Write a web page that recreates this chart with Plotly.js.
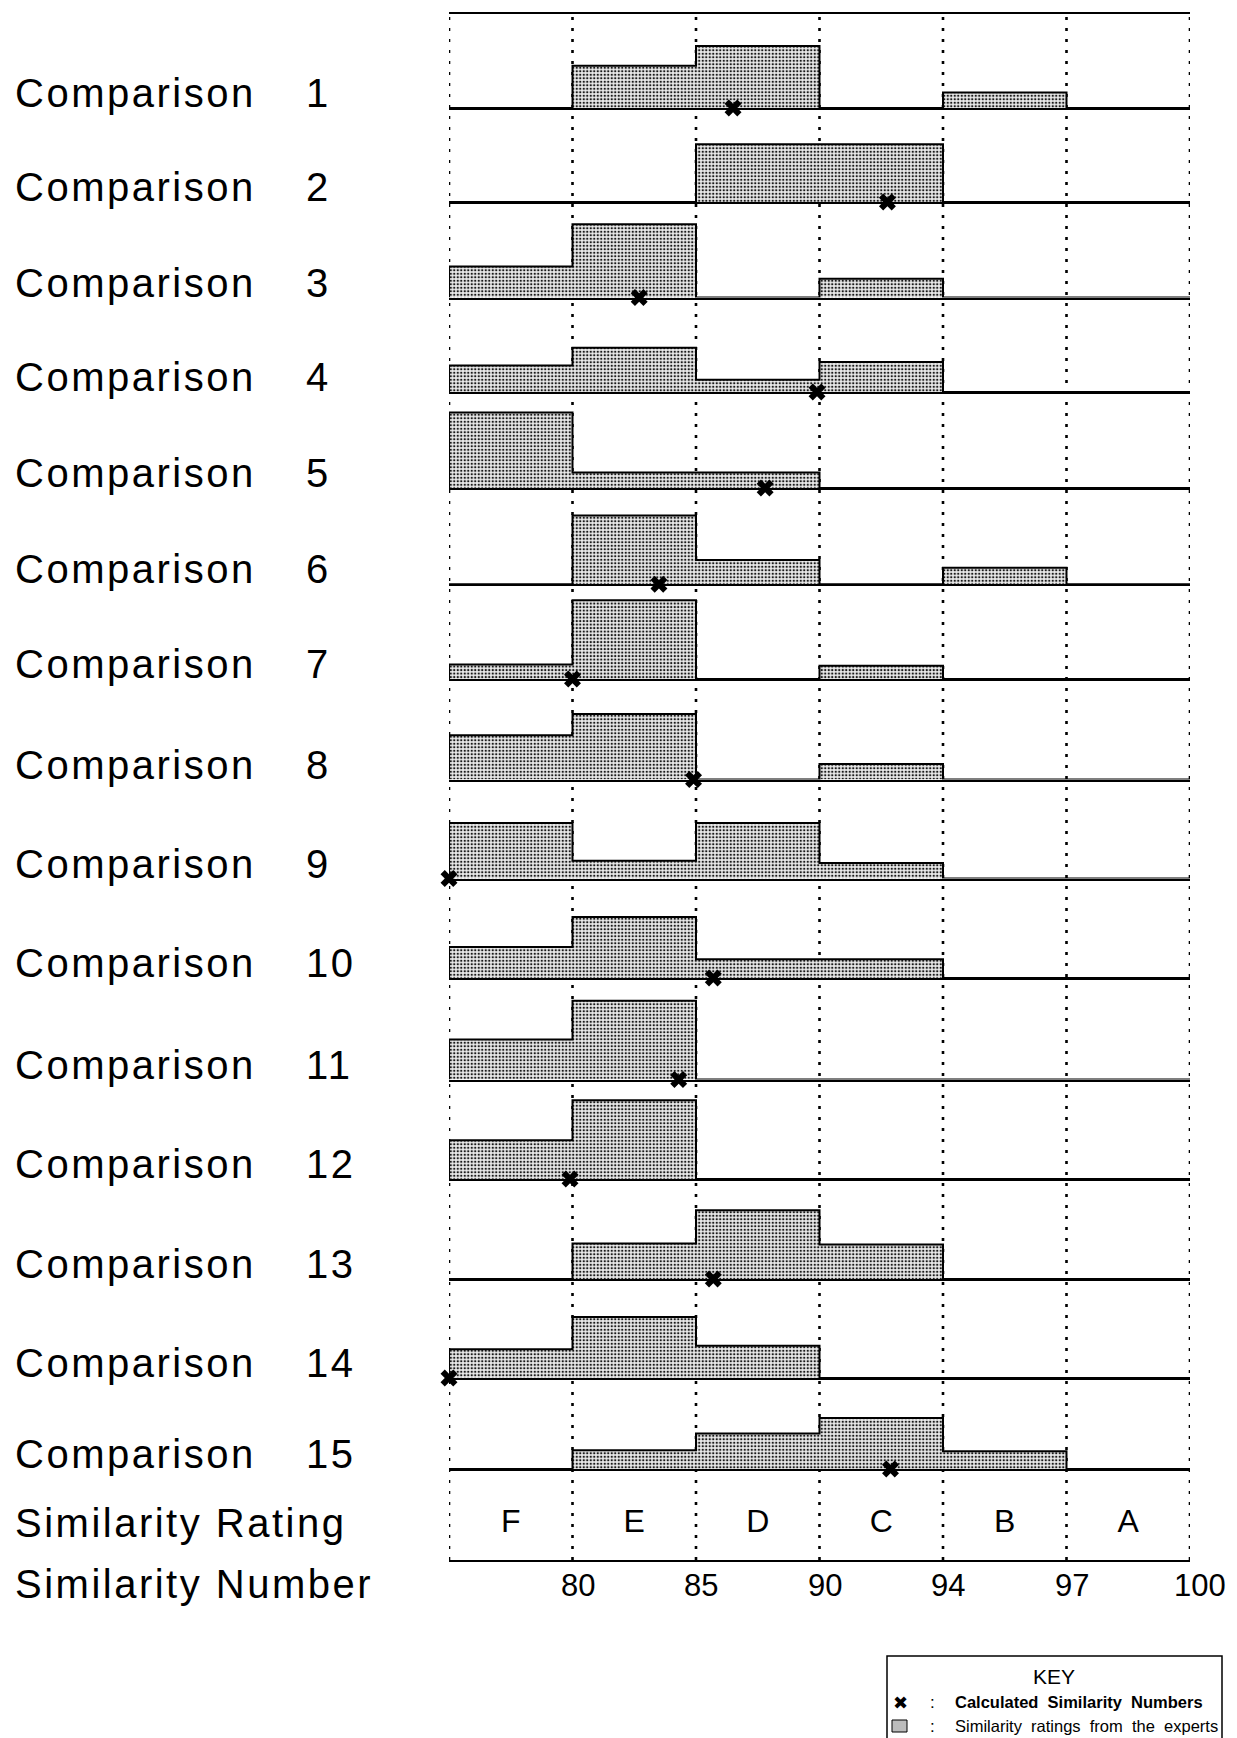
<!DOCTYPE html>
<html>
<head>
<meta charset="utf-8">
<script src="https://cdn.plot.ly/plotly-3.0.1.min.js"></script>
<style>
html,body{margin:0;padding:0;background:#fff;}
#chart{width:1237px;height:1738px;}
</style>
</head>
<body>
<div id="chart"></div>
<script>
// ---------------- DATA ----------------
const comparisonNumbers = ['1','2','3','4','5','6','7','8','9','10','11','12','13','14','15'];
const ratingLetters = ['F','E','D','C','B','A'];
const binEdges = [75, 80, 85, 90, 94, 97, 100];          // similarity number bin boundaries (75 = assumed lower end of F)
const edgeTickLabels = ['80','85','90','94','97','100'];

// expert similarity ratings per bin (F, E, D, C, B, A), relative heights
const expert1  = [0, 38, 56, 0, 14, 0];
const expert2  = [0, 0, 52, 52, 0, 0];
const expert3  = [28, 66, 0, 17, 0, 0];
const expert4  = [24, 40, 11, 27, 0, 0];
const expert5  = [68, 14, 14, 0, 0, 0];
const expert6  = [0, 62, 22, 0, 15, 0];
const expert7  = [13, 71, 0, 12, 0, 0];
const expert8  = [40, 59, 0, 14, 0, 0];
const expert9  = [50, 16, 50, 14, 0, 0];
const expert10 = [28, 55, 17, 17, 0, 0];
const expert11 = [36, 71, 0, 0, 0, 0];
const expert12 = [35, 71, 0, 0, 0, 0];
const expert13 = [0, 32, 62, 31, 0, 0];
const expert14 = [26, 55, 29, 0, 0, 0];
const expert15 = [0, 17, 32, 46, 16, 0];

// calculated similarity numbers (the x marks)
const calculatedSimilarity = [86.5, 92.2, 82.7, 89.9, 87.8, 83.5, 80.0, 84.9, 75.0, 85.7, 84.3, 79.9, 85.7, 75.0, 92.3];

const expertRatings = [expert1, expert2, expert3, expert4, expert5, expert6, expert7, expert8,
                       expert9, expert10, expert11, expert12, expert13, expert14, expert15];

// ---------------- LAYOUT GEOMETRY (pixels of the page) ----------------
const W = 1237, H = 1738;
const plotLeftPx = 449, plotRightPx = 1190, topPx = 13.5, bandBottomPx = 1560;
const baselinePx = [108, 202, 297.5, 392, 488, 584.3, 679, 779.5, 878.5, 978, 1079.5, 1179, 1279, 1378, 1469];
const pxPerUnit = 1.109;
const fx = p => p / W;
const fy = p => 1 - p / H;

// map a similarity number to the (equal-width) bin position scale
function toBinPos(v) {
  if (v <= binEdges[0]) return 0;
  for (let i = 0; i < binEdges.length - 1; i++) {
    if (v <= binEdges[i + 1]) return i + (v - binEdges[i]) / (binEdges[i + 1] - binEdges[i]);
  }
  return binEdges.length - 1;
}

const nBins = ratingLetters.length;
const binIdx = ratingLetters.map((_, i) => i);
const traces = [];
const layout = {
  width: W, height: H,
  margin: {l: 0, r: 0, t: 0, b: 0},
  paper_bgcolor: '#ffffff',
  plot_bgcolor: 'rgba(0,0,0,0)',
  showlegend: false,
  hovermode: false,
  font: {family: 'Liberation Sans, Arial, sans-serif', color: '#000'},
  annotations: [],
  shapes: []
};

const xDomain = [fx(plotLeftPx), fx(plotRightPx)];

expertRatings.forEach((vals, r) => {
  const s = r === 0 ? '' : String(r + 1);
  const topEdge = r === 0 ? topPx : baselinePx[r - 1];
  const botEdge = baselinePx[r];
  // step outline with fill
  const xs = [0].concat(binIdx, [nBins]);
  const ys = [0].concat(vals, [0]);
  traces.push({
    type: 'scatter', mode: 'lines', x: xs, y: ys,
    xaxis: 'x' + s, yaxis: 'y' + s,
    line: {shape: 'hv', color: '#000', width: 2},
    fill: 'tozeroy', fillcolor: '#cacaca',
    fillpattern: {shape: '.', fgcolor: '#1a1a1a', bgcolor: '#ebebeb', size: 3.5, solidity: 0.36}
  });
  traces.push({
    type: 'scatter', mode: 'markers',
    x: [toBinPos(calculatedSimilarity[r])], y: [0],
    xaxis: 'x' + s, yaxis: 'y' + s,
    cliponaxis: false,
    marker: {symbol: 'x', size: 15, color: '#000', line: {width: 0}}
  });
  layout['xaxis' + s] = {
    domain: xDomain, range: [0, nBins], anchor: 'y' + s,
    showline: true, linecolor: '#000', linewidth: 2, mirror: r === 0,
    showgrid: false, zeroline: false, showticklabels: false, ticks: ''
  };
  layout['yaxis' + s] = {
    domain: [fy(botEdge), fy(topEdge)],
    range: [0, (botEdge - topEdge) / pxPerUnit],
    anchor: 'x' + s, visible: false
  };
  const labelY = fy(botEdge - 15);
  layout.annotations.push({
    xref: 'paper', yref: 'paper', x: fx(13), y: labelY, xanchor: 'left', yanchor: 'middle', align: 'left',
    text: 'Comparison', showarrow: false, font: {size: 40}
  });
  layout.annotations.push({
    xref: 'paper', yref: 'paper', x: fx(304), y: labelY, xanchor: 'left', yanchor: 'middle', align: 'left',
    text: comparisonNumbers[r], showarrow: false, font: {size: 40}
  });
});

// rating band (row 16)
traces.push({
  type: 'scatter', mode: 'text',
  x: binIdx.map(i => i + 0.5), y: binIdx.map(() => 0.4),
  text: ratingLetters, textposition: 'middle center',
  textfont: {size: 32, color: '#000', family: 'Liberation Sans, Arial, sans-serif'},
  xaxis: 'x16', yaxis: 'y16', cliponaxis: false
});
layout.xaxis16 = {
  domain: xDomain, range: [0, nBins], anchor: 'y16',
  showline: true, linecolor: '#000', linewidth: 2,
  showgrid: false, zeroline: false, ticks: '', showticklabels: false
};
layout.yaxis16 = {
  domain: [fy(bandBottomPx), fy(baselinePx[baselinePx.length - 1])],
  range: [0, 1], anchor: 'x16', visible: false
};
// similarity number labels at the bin boundaries
edgeTickLabels.forEach((lab, i) => {
  layout.annotations.push({
    xref: 'x16', yref: 'paper', x: i + 1, y: fy(1585), xanchor: 'center', yanchor: 'middle',
    xshift: i === edgeTickLabels.length - 1 ? 10 : 5,
    text: lab, showarrow: false, font: {size: 31}
  });
});

// dotted bin boundary lines
for (let i = 0; i <= nBins; i++) {
  layout.shapes.push({
    type: 'line', layer: 'below', xref: 'x16', yref: 'paper',
    x0: i, x1: i, y0: fy(bandBottomPx), y1: fy(topPx),
    line: {color: '#000', width: 2.6, dash: '3px,8px'}
  });
}

layout.annotations.push({
  xref: 'paper', yref: 'paper', x: fx(13), y: fy(1523), xanchor: 'left', yanchor: 'middle', align: 'left',
  text: 'Similarity Rating', showarrow: false, font: {size: 40}
});
layout.annotations.push({
  xref: 'paper', yref: 'paper', x: fx(13), y: fy(1584), xanchor: 'left', yanchor: 'middle', align: 'left',
  text: 'Similarity Number', showarrow: false, font: {size: 40}
});

// KEY box
layout.shapes.push({
  type: 'rect', xref: 'paper', yref: 'paper', layer: 'above',
  x0: fx(887), x1: fx(1222), y0: fy(1760), y1: fy(1656),
  line: {color: '#000', width: 1.5}, fillcolor: 'rgba(0,0,0,0)'
});
layout.shapes.push({
  type: 'rect', xref: 'paper', yref: 'paper', layer: 'above',
  x0: fx(892), x1: fx(907), y0: fy(1732), y1: fy(1720),
  line: {color: '#000', width: 1}, fillcolor: '#bcbcbc'
});
layout.annotations.push({
  xref: 'paper', yref: 'paper', x: fx(1054), y: fy(1676), xanchor: 'center', yanchor: 'middle',
  text: 'KEY', showarrow: false, font: {size: 21}
});
layout.annotations.push({
  xref: 'paper', yref: 'paper', x: fx(900), y: fy(1702), xanchor: 'center', yanchor: 'middle',
  text: '\u2716', showarrow: false, font: {size: 18, family: 'DejaVu Sans'}
});
layout.annotations.push({
  xref: 'paper', yref: 'paper', x: fx(932), y: fy(1702), xanchor: 'center', yanchor: 'middle',
  text: ':', showarrow: false, font: {size: 17}
});
layout.annotations.push({
  xref: 'paper', yref: 'paper', x: fx(932), y: fy(1726), xanchor: 'center', yanchor: 'middle',
  text: ':', showarrow: false, font: {size: 17}
});
layout.annotations.push({
  xref: 'paper', yref: 'paper', x: fx(953), y: fy(1702), xanchor: 'left', yanchor: 'middle', align: 'left',
  text: '<b>Calculated\u00a0 Similarity\u00a0 Numbers</b>', showarrow: false, font: {size: 16.5}
});
layout.annotations.push({
  xref: 'paper', yref: 'paper', x: fx(953), y: fy(1726), xanchor: 'left', yanchor: 'middle', align: 'left',
  text: 'Similarity\u00a0 ratings\u00a0 from\u00a0 the\u00a0 experts', showarrow: false, font: {size: 16.5}
});

Plotly.newPlot('chart', traces, layout, {staticPlot: true, displayModeBar: false}).then(gd => {
  gd.querySelectorAll('.annotation-text').forEach(t => {
    const fs = parseFloat(t.style.fontSize);
    if (fs >= 39) t.style.letterSpacing = '2.5px';
  });
});
</script>
</body>
</html>
